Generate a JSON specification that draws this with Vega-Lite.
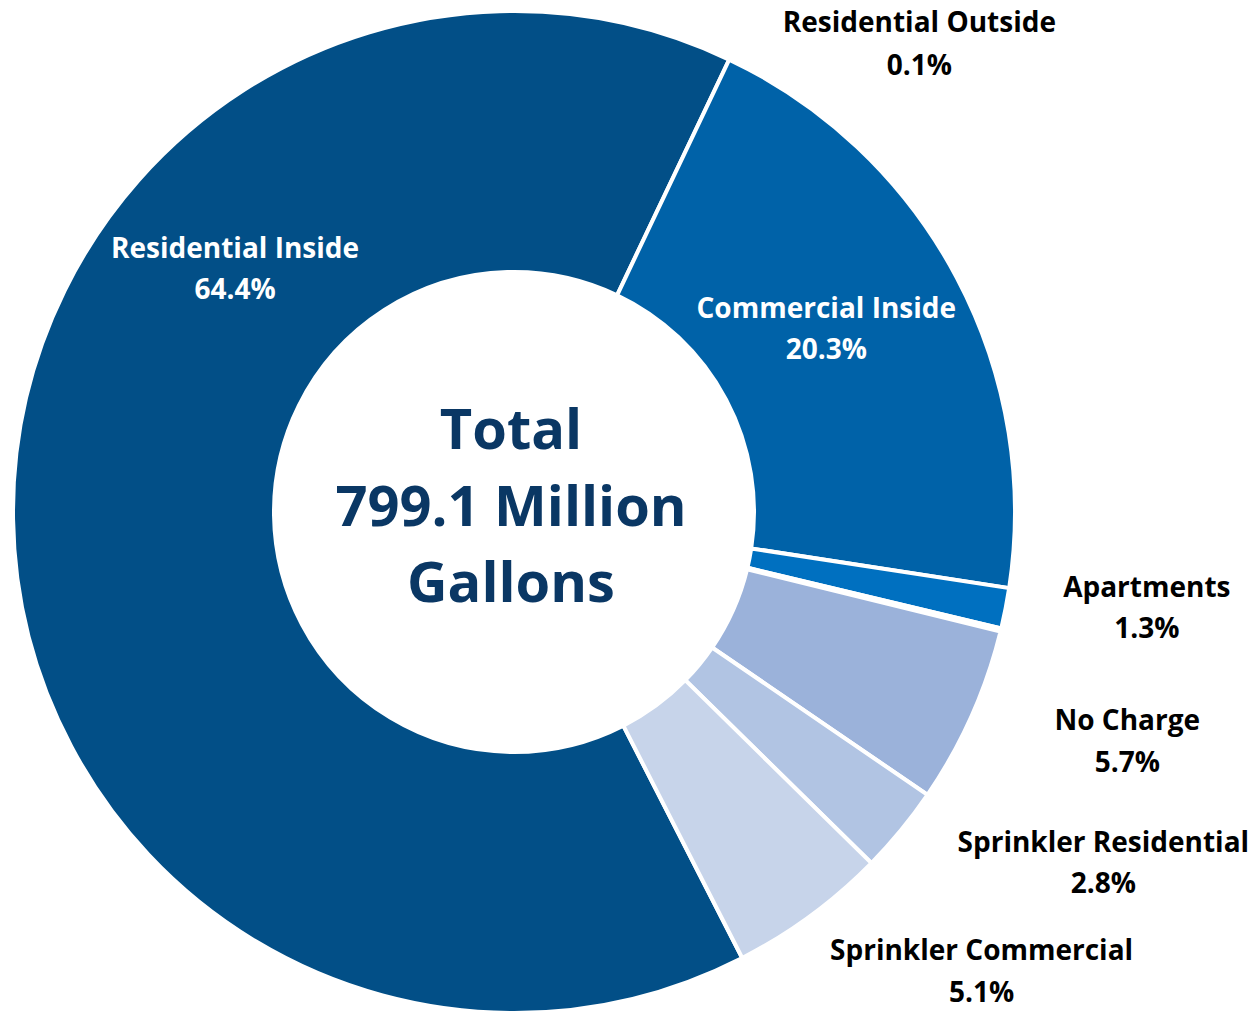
{
  "$schema": "https://vega.github.io/schema/vega-lite/v6.json",
  "width": 1028,
  "height": 1024,
  "autosize": {"type": "none"},
  "padding": {"left": 0, "top": 0, "right": 230, "bottom": 0},
  "background": "white",
  "config": {"view": {"stroke": null}, "text": {"font": "Open Sans", "fontWeight": "bold"}},
  "layer": [
    {
      "data": {"values": [
        {"cat": "Residential Inside", "share": 0.644},
        {"cat": "Commercial Inside", "share": 0.203},
        {"cat": "Apartments", "share": 0.013},
        {"cat": "Residential Outside", "share": 0.001},
        {"cat": "No Charge", "share": 0.057},
        {"cat": "Sprinkler Residential", "share": 0.028},
        {"cat": "Sprinkler Commercial", "share": 0.051}
      ]},
      "transform": [{"window": [{"op": "row_number", "as": "rank"}]}],
      "encoding": {
        "theta": {"field": "share", "type": "quantitative", "stack": true, "scale": {"range": [2.6686, 8.9518]}},
        "order": {"field": "rank", "type": "quantitative"},
        "detail": {"field": "cat", "type": "nominal"}
      },
      "layer": [
        {
          "mark": {"type": "arc", "outerRadius": 501, "innerRadius": 240, "stroke": "white", "strokeWidth": 4},
          "encoding": {
            "color": {"field": "cat", "type": "nominal", "legend": null,
              "scale": {
                "domain": ["Residential Inside", "Commercial Inside", "Apartments", "Residential Outside", "No Charge", "Sprinkler Residential", "Sprinkler Commercial"],
                "range": ["#024F87", "#0062A8", "#0070C0", "#8EA9DB", "#9BB2DA", "#B1C4E3", "#C7D4EA"]
              }
            }
          }
        },
        {"mark": {"type": "text", "radius": 300, "dx": 21, "dy": -258, "fontSize": 28, "color": "white", "align": "center", "baseline": "alphabetic"},
         "encoding": {"text": {"condition": {"test": "datum.cat === 'Residential Inside'", "field": "cat"}, "value": ""}}},
        {"mark": {"type": "text", "radius": 300, "dx": 21, "dy": -217, "fontSize": 28, "color": "white", "align": "center", "baseline": "alphabetic"},
         "encoding": {"text": {"condition": {"test": "datum.cat === 'Residential Inside'", "field": "share", "type": "quantitative", "format": ".1%"}, "value": ""}}},
        {"mark": {"type": "text", "radius": 350, "dx": 3, "dy": -30, "fontSize": 28, "color": "white", "align": "center", "baseline": "alphabetic"},
         "encoding": {"text": {"condition": {"test": "datum.cat === 'Commercial Inside'", "field": "cat"}, "value": ""}}},
        {"mark": {"type": "text", "radius": 350, "dx": 3, "dy": 11, "fontSize": 28, "color": "white", "align": "center", "baseline": "alphabetic"},
         "encoding": {"text": {"condition": {"test": "datum.cat === 'Commercial Inside'", "field": "share", "type": "quantitative", "format": ".1%"}, "value": ""}}},
        {"mark": {"type": "text", "radius": 600, "dx": 44, "dy": -30, "fontSize": 28, "color": "black", "align": "center", "baseline": "alphabetic"},
         "encoding": {"text": {"condition": {"test": "datum.cat === 'Apartments'", "field": "cat"}, "value": ""}}},
        {"mark": {"type": "text", "radius": 600, "dx": 44, "dy": 11, "fontSize": 28, "color": "black", "align": "center", "baseline": "alphabetic"},
         "encoding": {"text": {"condition": {"test": "datum.cat === 'Apartments'", "field": "share", "type": "quantitative", "format": ".1%"}, "value": ""}}},
        {"mark": {"type": "text", "radius": 520, "dx": -100, "dy": -602, "fontSize": 28, "color": "black", "align": "center", "baseline": "alphabetic"},
         "encoding": {"text": {"condition": {"test": "datum.cat === 'Residential Outside'", "field": "cat"}, "value": ""}}},
        {"mark": {"type": "text", "radius": 520, "dx": -100, "dy": -559, "fontSize": 28, "color": "black", "align": "center", "baseline": "alphabetic"},
         "encoding": {"text": {"condition": {"test": "datum.cat === 'Residential Outside'", "field": "share", "type": "quantitative", "format": ".1%"}, "value": ""}}},
        {"mark": {"type": "text", "radius": 640, "dx": 29, "dy": -43, "fontSize": 28, "color": "black", "align": "center", "baseline": "alphabetic"},
         "encoding": {"text": {"condition": {"test": "datum.cat === 'No Charge'", "field": "cat"}, "value": ""}}},
        {"mark": {"type": "text", "radius": 640, "dx": 29, "dy": -1, "fontSize": 28, "color": "black", "align": "center", "baseline": "alphabetic"},
         "encoding": {"text": {"condition": {"test": "datum.cat === 'No Charge'", "field": "share", "type": "quantitative", "format": ".1%"}, "value": ""}}},
        {"mark": {"type": "text", "radius": 640, "dx": 95, "dy": -66, "fontSize": 28, "color": "black", "align": "center", "baseline": "alphabetic"},
         "encoding": {"text": {"condition": {"test": "datum.cat === 'Sprinkler Residential'", "field": "cat"}, "value": ""}}},
        {"mark": {"type": "text", "radius": 640, "dx": 95, "dy": -25, "fontSize": 28, "color": "black", "align": "center", "baseline": "alphabetic"},
         "encoding": {"text": {"condition": {"test": "datum.cat === 'Sprinkler Residential'", "field": "share", "type": "quantitative", "format": ".1%"}, "value": ""}}},
        {"mark": {"type": "text", "radius": 560, "dx": 136, "dy": -3, "fontSize": 28, "color": "black", "align": "center", "baseline": "alphabetic"},
         "encoding": {"text": {"condition": {"test": "datum.cat === 'Sprinkler Commercial'", "field": "cat"}, "value": ""}}},
        {"mark": {"type": "text", "radius": 560, "dx": 136, "dy": 39, "fontSize": 28, "color": "black", "align": "center", "baseline": "alphabetic"},
         "encoding": {"text": {"condition": {"test": "datum.cat === 'Sprinkler Commercial'", "field": "share", "type": "quantitative", "format": ".1%"}, "value": ""}}}
      ]
    },
    {
      "data": {"values": [{}]},
      "mark": {"type": "text", "text": ["Total", "799.1 Million", "Gallons"], "fontSize": 56, "lineHeight": 76.5, "color": "#0A3764", "align": "center", "baseline": "alphabetic", "dx": -3, "dy": -63},
      "encoding": {}
    }
  ]
}
